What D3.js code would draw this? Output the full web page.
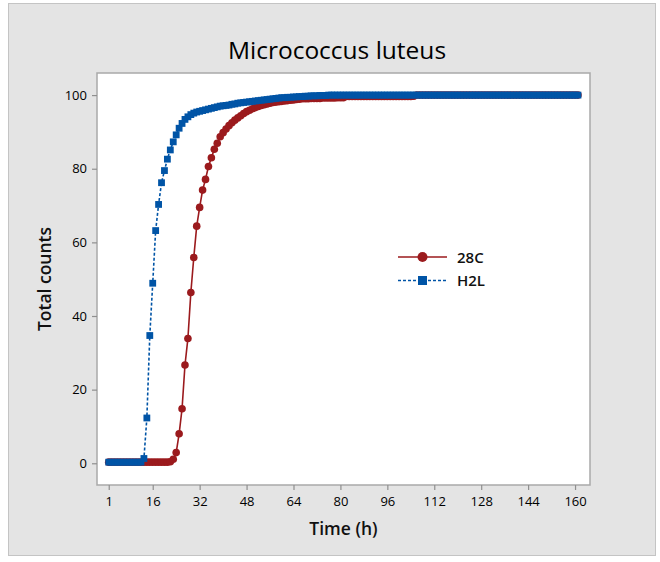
<!DOCTYPE html>
<html>
<head>
<meta charset="utf-8">
<script src="https://cdn.jsdelivr.net/npm/d3@7/dist/d3.min.js"></script>
<style>
html,body{margin:0;padding:0;background:#fff;}
svg{display:block;font-family:"Open Sans","Noto Sans",sans-serif;}
</style>
</head>
<body>
<svg id="chart" width="660" height="562"></svg>
<script>
// ---- data ----
const title = "Micrococcus luteus";
const xLabel = "Time (h)";
const yLabel = "Total counts";
const xTicks = [1, 16, 32, 48, 64, 80, 96, 112, 128, 144, 160];
const yTicks = [0, 20, 40, 60, 80, 100];
const seriesNames = ["28C", "H2L"];

// time points (h)
const hours = [
  1,2,3,4,5,6,7,8,9,10,11,12,13,14,15,16,17,18,19,20,
  21,22,23,24,25,26,27,28,29,30,31,32,33,34,35,36,37,38,39,40,
  41,42,43,44,45,46,47,48,49,50,51,52,53,54,55,56,57,58,59,60,
  61,62,63,64,65,66,67,68,69,70,71,72,73,74,75,76,77,78,79,80,
  81,82,83,84,85,86,87,88,89,90,91,92,93,94,95,96,97,98,99,100,
  101,102,103,104,105,106,107,108,109,110,111,112,113,114,115,116,117,118,119,120,
  121,122,123,124,125,126,127,128,129,130,131,132,133,134,135,136,137,138,139,140,
  141,142,143,144,145,146,147,148,149,150,151,152,153,154,155,156,157,158,159,160,
  161
];

const values28C = [
  0.3,0.3,0.3,0.3,0.3,0.3,0.3,0.3,0.3,0.3,0.3,0.3,0.3,0.3,0.3,0.3,0.3,0.3,0.3,0.3,
  0.3,0.4,1.1,2.9,8.0,14.8,26.7,33.9,46.4,55.9,64.4,69.5,74.2,77.1,80.6,83.0,85.3,86.9,88.7,89.8,
  90.8,91.7,92.5,93.2,93.8,94.4,95.0,95.5,95.9,96.3,96.6,96.9,97.2,97.4,97.6,97.8,98.0,98.1,98.2,98.3,
  98.4,98.5,98.6,98.7,98.8,98.9,99.0,99.0,99.0,99.1,99.1,99.1,99.1,99.2,99.2,99.2,99.2,99.2,99.3,99.3,
  99.3,99.6,99.6,99.6,99.6,99.6,99.6,99.6,99.6,99.6,99.6,99.6,99.6,99.6,99.6,99.6,99.6,99.6,99.6,99.6,
  99.6,99.6,99.6,99.6,99.7,100,100,100,100,100,100,100,100,100,100,100,100,100,100,100,100,100,100,100,
  100,100,100,100,100,100,100,100,100,100,100,100,100,100,100,100,100,100,100,100,
  100,100,100,100,100,100,100,100,100,100,100,100,100,100,100,100,100,100,100,100,
  100
];

const valuesH2L = [
  0.3,0.3,0.3,0.3,0.3,0.3,0.3,0.3,0.3,0.3,0.3,0.3,1.3,12.3,34.7,48.9,63.2,70.3,76.2,79.5,
  82.6,85.1,87.3,89.2,91.0,92.3,93.4,94.1,94.7,95.1,95.4,95.6,95.8,96.0,96.2,96.4,96.6,96.8,97.0,97.1,
  97.2,97.3,97.5,97.6,97.8,97.9,98.0,98.1,98.2,98.3,98.4,98.5,98.6,98.7,98.8,98.9,99.0,99.1,99.2,99.3,
  99.3,99.4,99.4,99.5,99.5,99.6,99.6,99.7,99.7,99.8,99.8,99.8,99.9,99.9,99.9,100,100,100,100,100,
  100,100,100,100,100,100,100,100,100,100,100,100,100,100,100,100,100,100,100,100,
  100,100,100,100,100,100,100,100,100,100,100,100,100,100,100,100,100,100,100,100,
  100,100,100,100,100,100,100,100,100,100,100,100,100,100,100,100,100,100,100,100,
  100,100,100,100,100,100,100,100,100,100,100,100,100,100,100,100,100,100,100,100,
  100
];

// ---- chart ----
const svg = d3.select("#chart");
const colors = {"28C": "#9b1a1d", "H2L": "#0054a6"};

// outer panel
svg.append("rect").attr("x", 8.5).attr("y", 3.5).attr("width", 647).attr("height", 552)
  .attr("fill", "#e4e4e4").attr("stroke", "#c4c4c4");

const plot = {left: 97, right: 590, top: 73, bottom: 485};
svg.append("rect").attr("x", plot.left).attr("y", plot.top)
  .attr("width", plot.right - plot.left).attr("height", plot.bottom - plot.top)
  .attr("fill", "#fff").attr("stroke", "#a9a9a9").attr("stroke-width", 1.5);

const x = d3.scaleLinear().domain([-3, 165.1]).range([plot.left, plot.right]);
const y = d3.scaleLinear().domain([-5.9, 106]).range([plot.bottom, plot.top]);

// axes
const xAxis = svg.append("g").attr("transform", `translate(0,${plot.bottom})`)
  .call(d3.axisBottom(x).tickValues(xTicks).tickSize(5).tickSizeOuter(0).tickPadding(7));
const yAxis = svg.append("g").attr("transform", `translate(${plot.left},0)`)
  .call(d3.axisLeft(y).tickValues(yTicks).tickSize(5).tickSizeOuter(0).tickPadding(5));
[xAxis, yAxis].forEach(g => {
  g.select(".domain").remove();
  g.selectAll(".tick line").attr("stroke", "#8f8f8f").attr("stroke-width", 1.2);
  g.selectAll(".tick text").attr("fill", "#000").style("font-size", "13px")
    .style("font-weight", 500)
    .style("font-family", "'Open Sans','Noto Sans',sans-serif");
});

// titles
svg.append("text").attr("x", 337).attr("y", 59).attr("text-anchor", "middle")
  .style("font-size", "24.5px").attr("fill", "#000").text(title);
svg.append("text").attr("x", (plot.left + plot.right) / 2).attr("y", 535).attr("text-anchor", "middle")
  .style("font-size", "17.5px").style("font-weight", 600).attr("fill", "#111").text(xLabel);
svg.append("text").attr("transform", `translate(51,${(plot.top + plot.bottom) / 2}) rotate(-90)`)
  .attr("text-anchor", "middle").style("font-size", "17.5px").style("font-weight", 600)
  .attr("fill", "#111").text(yLabel);

// series
const series = [
  {name: seriesNames[0], values: values28C, dash: null, shape: "circle"},
  {name: seriesNames[1], values: valuesH2L, dash: "3,2", shape: "square"}
];
svg.append("clipPath").attr("id", "clip").append("rect")
  .attr("x", plot.left).attr("y", plot.top).attr("width", plot.right - plot.left).attr("height", plot.bottom - plot.top);

const line = d3.line().x(d => x(d[0])).y(d => y(d[1]));
series.forEach(s => {
  const pts = hours.map((h, i) => [h, s.values[i]]);
  const g = svg.append("g").attr("clip-path", "url(#clip)");
  g.append("path").datum(pts).attr("d", line).attr("fill", "none")
    .attr("stroke", colors[s.name]).attr("stroke-width", 1.6)
    .attr("stroke-dasharray", s.dash);
  if (s.shape === "circle") {
    g.selectAll("circle").data(pts).join("circle")
      .attr("cx", d => x(d[0])).attr("cy", d => y(d[1])).attr("r", 3.8)
      .attr("fill", colors[s.name]);
  } else {
    g.selectAll("rect").data(pts).join("rect")
      .attr("x", d => x(d[0]) - 3.4).attr("y", d => y(d[1]) - 3.4)
      .attr("width", 6.8).attr("height", 6.8).attr("fill", colors[s.name]);
  }
});

// legend
const legend = svg.append("g").attr("transform", "translate(398,257)");
series.forEach((s, i) => {
  const g = legend.append("g").attr("transform", `translate(0,${i * 23.5})`);
  g.append("line").attr("x1", 0).attr("x2", 49).attr("y1", 0).attr("y2", 0)
    .attr("stroke", colors[s.name]).attr("stroke-width", 1.6).attr("stroke-dasharray", s.dash);
  if (s.shape === "circle") {
    g.append("circle").attr("cx", 24.5).attr("cy", 0).attr("r", 5).attr("fill", colors[s.name]);
  } else {
    g.append("rect").attr("x", 20).attr("y", -4.5).attr("width", 9).attr("height", 9).attr("fill", colors[s.name]);
  }
  g.append("text").attr("x", 59).attr("y", 5.5).style("font-size", "15px").style("font-weight", 600)
    .attr("fill", "#111").text(s.name);
});
</script>
</body>
</html>
